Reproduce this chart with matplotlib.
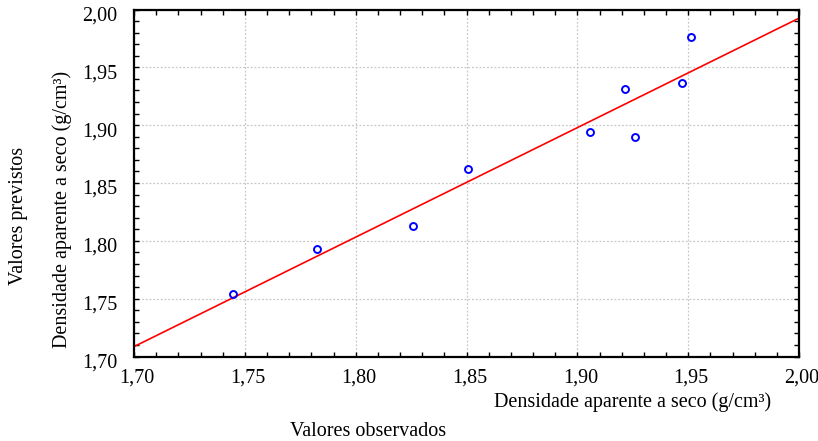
import numpy as np
import matplotlib
matplotlib.use("Agg")
import matplotlib.pyplot as plt
from matplotlib.ticker import MultipleLocator, FuncFormatter
from matplotlib.transforms import ScaledTranslation

plt.rcParams['font.family'] = ['Liberation Serif', 'DejaVu Serif']

# Observed vs. predicted dry bulk density (g/cm³)
observed = [1.7447, 1.7827, 1.8258, 1.8507, 1.9058, 1.9214, 1.9261, 1.9474, 1.9512]
predicted = [1.7539, 1.7928, 1.8130, 1.8617, 1.8942, 1.9316, 1.8896, 1.9362, 1.9765]

x_limits = [1.70, 2.00]
y_limits = [1.70, 2.00]

W, H = 818, 441
fig = plt.figure(figsize=(W / 100, H / 100), dpi=100)
ax = fig.add_axes([134 / W, 1 - 356.5 / H, (799 - 134) / W, (356.5 - 9.5) / H])

# Least-squares line through the points, spanning the full x range
slope, intercept = np.polyfit(observed, predicted, 1)
xs = np.array(x_limits)
ax.plot(xs, slope * xs + intercept, color='#ff0000', lw=1.2, zorder=2)

ax.plot(observed, predicted, linestyle='none', marker='o', markersize=5,
        markerfacecolor='none', markeredgecolor='#0000ff', markeredgewidth=1.4,
        zorder=3)

ax.set_xlim(x_limits)
ax.set_ylim(y_limits)

ax.xaxis.set_major_locator(MultipleLocator(0.05))
ax.yaxis.set_major_locator(MultipleLocator(0.05))
ax.xaxis.set_minor_locator(MultipleLocator(0.01))
ax.yaxis.set_minor_locator(MultipleLocator(0.01))

comma = FuncFormatter(lambda v, p: f"{v:.2f}".replace('.', ','))
ax.xaxis.set_major_formatter(comma)
ax.yaxis.set_major_formatter(comma)

ax.tick_params(which='both', direction='in', top=True, right=True,
               length=3.5, width=1.0, colors='black', labelsize=14.5)
ax.tick_params(axis='x', which='major', pad=9)
ax.tick_params(axis='y', which='major', pad=12)

for lbl in ax.get_xticklabels():
    lbl.set_transform(lbl.get_transform() + ScaledTranslation(0.03, 0, fig.dpi_scale_trans))
for lbl in ax.get_yticklabels():
    lbl.set_transform(lbl.get_transform() + ScaledTranslation(0, -0.04, fig.dpi_scale_trans))

ax.grid(True, which='major', color='#c8c8c8', linestyle=(0, (1.5, 1.5)), lw=0.9)
ax.set_axisbelow(True)

for s in ax.spines.values():
    s.set_linewidth(1.6)
    s.set_color('black')

# Axis titles
fig.text(633 / W, 1 - 402 / H, 'Densidade aparente a seco (g/cm³)',
         ha='center', va='center', fontsize=14.5)
fig.text(368 / W, 1 - 431 / H, 'Valores observados',
         ha='center', va='center', fontsize=14.5)
fig.text(19 / W, 1 - 216 / H, 'Valores previstos', rotation=90,
         ha='center', va='center', fontsize=14.5)
fig.text(62 / W, 1 - 209 / H, 'Densidade aparente a seco (g/cm³)', rotation=90,
         ha='center', va='center', fontsize=14.5)

fig.savefig('out.png', dpi=100, facecolor='white')
